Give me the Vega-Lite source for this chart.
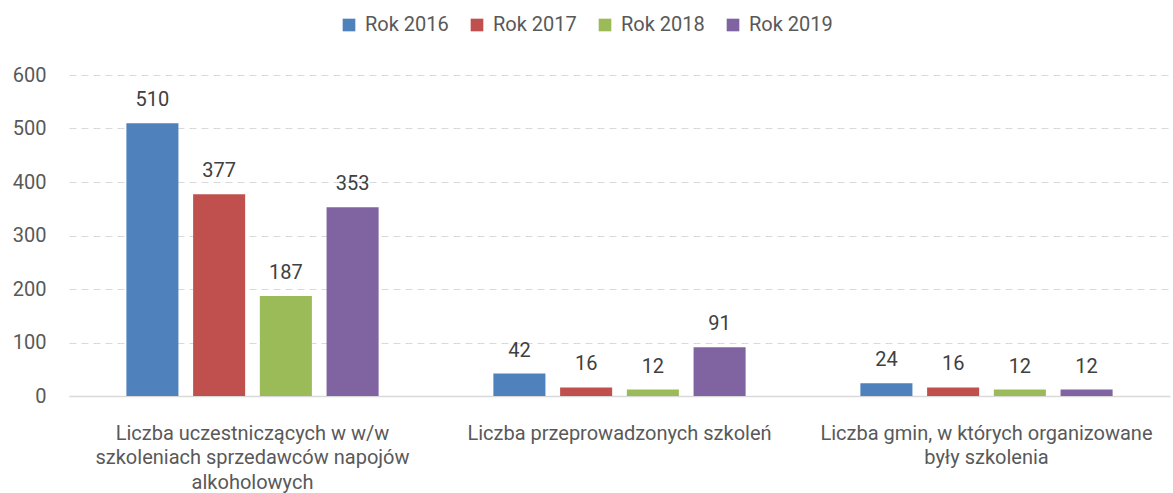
{
  "$schema": "https://vega.github.io/schema/vega-lite/v6.json",
  "width": 1101,
  "height": 321,
  "autosize": {"type": "none"},
  "padding": {"left": 69, "top": 75, "right": 3, "bottom": 97},
  "background": "white",
  "config": {
    "view": {"stroke": null},
    "font": "Roboto",
    "text": {"font": "Roboto"}
  },
  "data": {
    "values": [
      {"kategoria": "Liczba uczestniczących w w/w|szkoleniach sprzedawców napojów|alkoholowych", "rok": "Rok 2016", "wartosc": 510},
      {"kategoria": "Liczba uczestniczących w w/w|szkoleniach sprzedawców napojów|alkoholowych", "rok": "Rok 2017", "wartosc": 377},
      {"kategoria": "Liczba uczestniczących w w/w|szkoleniach sprzedawców napojów|alkoholowych", "rok": "Rok 2018", "wartosc": 187},
      {"kategoria": "Liczba uczestniczących w w/w|szkoleniach sprzedawców napojów|alkoholowych", "rok": "Rok 2019", "wartosc": 353},
      {"kategoria": "Liczba przeprowadzonych szkoleń", "rok": "Rok 2016", "wartosc": 42},
      {"kategoria": "Liczba przeprowadzonych szkoleń", "rok": "Rok 2017", "wartosc": 16},
      {"kategoria": "Liczba przeprowadzonych szkoleń", "rok": "Rok 2018", "wartosc": 12},
      {"kategoria": "Liczba przeprowadzonych szkoleń", "rok": "Rok 2019", "wartosc": 91},
      {"kategoria": "Liczba gmin, w których organizowane|były szkolenia", "rok": "Rok 2016", "wartosc": 24},
      {"kategoria": "Liczba gmin, w których organizowane|były szkolenia", "rok": "Rok 2017", "wartosc": 16},
      {"kategoria": "Liczba gmin, w których organizowane|były szkolenia", "rok": "Rok 2018", "wartosc": 12},
      {"kategoria": "Liczba gmin, w których organizowane|były szkolenia", "rok": "Rok 2019", "wartosc": 12}
    ]
  },
  "encoding": {
    "x": {
      "field": "kategoria",
      "type": "nominal",
      "sort": null,
      "scale": {"paddingInner": 0, "paddingOuter": 0},
      "axis": {
        "title": null,
        "labelAngle": 0,
        "labelExpr": "split(datum.label, '|')",
        "labelFont": "Roboto",
        "labelFontSize": 20,
        "labelColor": "#595959",
        "labelLineHeight": 24.5,
        "labelPadding": 27,
        "labelLimit": 0,
        "ticks": false,
        "domainColor": "#D9D9D9",
        "domainWidth": 1.5,
        "grid": false
      }
    },
    "xOffset": {
      "field": "rok",
      "type": "nominal",
      "scale": {"paddingInner": 0.22, "paddingOuter": 0.86}
    },
    "y": {
      "field": "wartosc",
      "type": "quantitative",
      "scale": {"domain": [0, 600], "nice": false},
      "axis": {
        "title": null,
        "values": [0, 100, 200, 300, 400, 500, 600],
        "labelFont": "Roboto",
        "labelFontSize": 20,
        "labelColor": "#595959",
        "labelPadding": 23,
        "ticks": false,
        "domain": false,
        "gridColor": "#D9D9D9",
        "gridDash": [7, 5],
        "gridWidth": 1
      }
    }
  },
  "layer": [
    {
      "mark": {"type": "bar"},
      "encoding": {
        "color": {
          "field": "rok",
          "type": "nominal",
          "scale": {
            "domain": ["Rok 2016", "Rok 2017", "Rok 2018", "Rok 2019"],
            "range": ["#4F81BD", "#C0504D", "#9BBB59", "#8064A2"]
          },
          "legend": {
            "title": null,
            "orient": "none",
            "direction": "horizontal",
            "legendX": 270,
            "legendY": -60,
            "symbolType": "square",
            "symbolSize": 160,
            "symbolStrokeWidth": 0,
            "labelFont": "Roboto",
            "labelFontSize": 20,
            "labelColor": "#595959",
            "labelOffset": 6,
            "columnPadding": 18
          }
        }
      }
    },
    {
      "mark": {"type": "text", "baseline": "alphabetic", "dy": -17, "fontSize": 20, "color": "#404040", "font": "Roboto"},
      "encoding": {
        "text": {"field": "wartosc", "type": "quantitative"}
      }
    }
  ]
}
